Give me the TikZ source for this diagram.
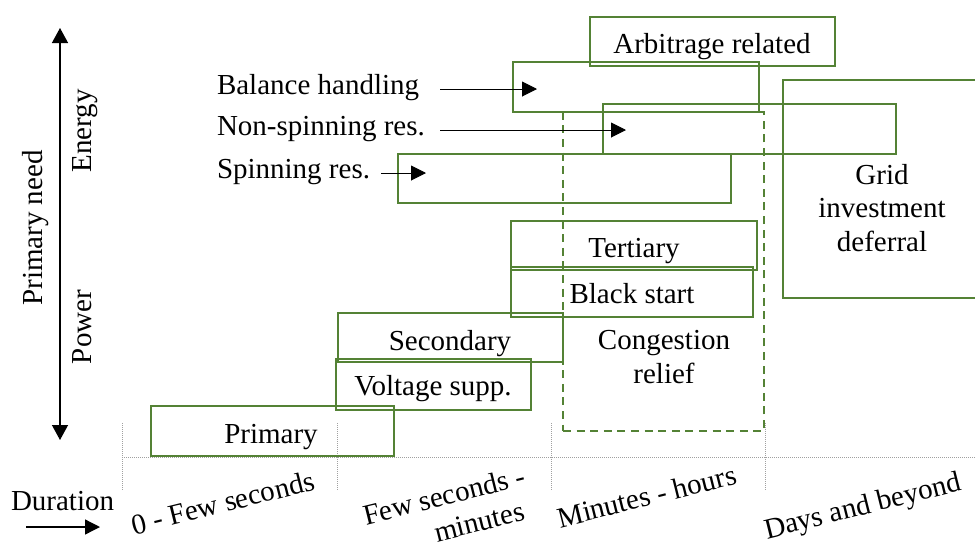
\documentclass[tikz,border=0pt]{standalone}
\usepackage{fontspec}
\setmainfont{Liberation Serif}
\usetikzlibrary{arrows.meta,fit}
\definecolor{boxgreen}{RGB}{84,130,53}
\definecolor{axisgray}{RGB}{160,160,160}
\begin{document}
\begin{tikzpicture}[x=0.5pt,y=-0.5pt,
  every node/.style={font=\fontsize{14.5}{16.6}\selectfont, inner sep=0pt, outer sep=0pt},
  svcbox/.style={draw=boxgreen, line width=1pt, inner sep=0pt, rectangle},
  reliefbox/.style={draw=boxgreen, line width=1pt, dash pattern=on 4pt off 2.8pt, inner sep=0pt, rectangle},
  lbl/.style={anchor=base},
  sidelbl/.style={anchor=base west},
  gridline/.style={draw=axisgray, line width=0.5pt, dash pattern=on 0.5pt off 0.5pt},
  pointer/.style={line width=0.5pt, -{Triangle[length=7.5pt,width=7.5pt]}},
  needaxis/.style={line width=0.65pt, {Triangle[length=7.5pt,width=8pt]}-{Triangle[length=7.5pt,width=8pt]}},
  slant/.style={rotate=14, anchor=base west},
]
\useasboundingbox (0,0) rectangle (975,542);
\clip (0,0) rectangle (975,542);

% time-scale axis
\coordinate (t0) at (122,423);
\coordinate (t1) at (337,423);
\coordinate (t2) at (551,423);
\coordinate (t3) at (765,423);
\coordinate (b0) at (122,491);
\coordinate (b1) at (337,491);
\coordinate (b2) at (551,491);
\coordinate (b3) at (765,491);
\coordinate (hl) at (122,457);
\coordinate (hr) at (975,457);
\draw[gridline] (hl) -- (hr);
\draw[gridline] (t0) -- (b0);
\draw[gridline] (t1) -- (b1);
\draw[gridline] (t2) -- (b2);
\draw[gridline] (t3) -- (b3);

% primary-need axis
\coordinate (ntop) at (60,28);
\coordinate (nbot) at (60,440);
\draw[needaxis] (nbot) -- (ntop);
\node[rotate=90, lbl] (need) at (42,228) {Primary need};
\node[rotate=90, lbl] (energy) at (91,131) {Energy};
\node[rotate=90, lbl] (power) at (91,327) {Power};

% duration label
\node[sidelbl] (dur) at (11,510) {Duration};
\coordinate (durS) at (26,527);
\coordinate (durE) at (100,527);
\draw[pointer, line width=0.65pt] (durS) -- (durE);

% time-scale labels
\node[slant] (s0) at (134,535) {0 - Few seconds};
\node[slant] (s1a) at (366,525) {Few seconds -};
\node[slant] (s1b) at (437,542) {minutes};
\node[slant] (s2) at (560,528) {Minutes - hours};
\node[slant] (s3) at (767,539) {Days and beyond};

% service boxes
\node[svcbox, fit={(590,17)(835,66)}] (arb) {};
\node[svcbox, fit={(513,62)(759,112)}] (bal) {};
\node[svcbox, fit={(603,104)(896,154)}] (nsp) {};
\node[svcbox, fit={(398,154)(731,203)}] (spn) {};
\node[svcbox, fit={(783,80)(990,298)}] (grid) {};
\node[svcbox, fit={(511,221)(757,270)}] (ter) {};
\node[svcbox, fit={(511,267)(753,317)}] (blk) {};
\node[svcbox, fit={(338,313)(563,362)}] (sec) {};
\node[svcbox, fit={(336,359)(531,410)}] (vol) {};
\node[svcbox, fit={(151,406)(394,456)}] (pri) {};
\node[reliefbox, fit={(563,112)(764,431)}] (cong) {};

% box captions
\node[lbl] (arbT) at (712,53) {Arbitrage related};
\node[lbl, align=center] (gridT) at (882,251) {Grid\\investment\\deferral};
\node[lbl] (terT) at (634,257) {Tertiary};
\node[lbl] (blkT) at (632,303) {Black start};
\node[lbl] (secT) at (450,350) {Secondary};
\node[lbl] (volT) at (433,395) {Voltage supp.};
\node[lbl] (priT) at (271,443) {Primary};
\node[lbl, align=center] (congT) at (664,383) {Congestion\\relief};

% reserve labels pointing into their boxes
\node[sidelbl] (balL) at (217,94) {Balance handling};
\node[sidelbl] (nspL) at (217,135) {Non-spinning res.};
\node[sidelbl] (spnL) at (217,178) {Spinning res.};
\coordinate (balS) at (440,89);
\coordinate (balE) at (537,89);
\coordinate (nspS) at (440,130);
\coordinate (nspE) at (626,130);
\coordinate (spnS) at (381,173);
\coordinate (spnE) at (426,173);
\draw[pointer] (balS) -- (balE);
\draw[pointer] (nspS) -- (nspE);
\draw[pointer] (spnS) -- (spnE);
\end{tikzpicture}
\end{document}
